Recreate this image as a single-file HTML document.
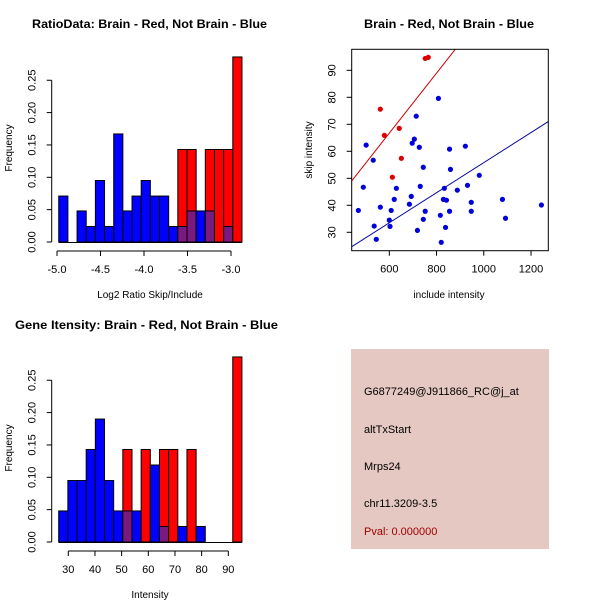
<!DOCTYPE html>
<html><head><meta charset="utf-8"><style>
body{margin:0;background:#fff}
svg{display:block;font-family:"Liberation Sans",Arial,sans-serif}
</style></head><body>
<svg id="c" width="600" height="600" viewBox="0 0 600 600">
<rect width="600" height="600" fill="#fff"/>
<g id="p1"></g>
<g id="p2"></g>
<g id="p3"></g>
<g>
<rect x="351" y="349" width="198" height="200" fill="#e5c8c2"/>
<text x="364" y="395" font-size="11">G6877249@J911866_RC@j_at</text>
<text x="364" y="433" font-size="11">altTxStart</text>
<text x="364" y="470" font-size="11">Mrps24</text>
<text x="364" y="507" font-size="11">chr11.3209-3.5</text>
<text x="364" y="535" font-size="11" fill="#a00000">Pval: 0.000000</text>
</g>
</svg>
<script>
// Histogram 1 data
const h1Blue=[0.071,0,0.048,0.024,0.095,0.024,0.167,0.048,0.071,0.095,0.071,0.071,0.024,0.024,0.048,0.048,0.048,0,0.024,0];
const h1Red=[0,0,0,0,0,0,0,0,0,0,0,0,0,0.143,0.143,0,0.143,0.143,0.143,0.286];
const h1Ticks=[-5.0,-4.5,-4.0,-3.5,-3.0];
const h1Start=-4.98, h1Width=0.1053;
// Histogram 2 data
const h2Blue=[0.048,0.095,0.095,0.143,0.19,0.095,0.048,0.048,0.048,0,0.119,0.024,0,0.024,0,0.024,0,0,0,0];
const h2Red=[0,0,0,0,0,0,0,0.143,0,0.143,0,0.143,0.143,0,0.143,0,0,0,0,0.286];
const h2Ticks=[30,40,50,60,70,80,90];
const h2Start=26.4, h2Width=3.435;
const freqTicks=[0,0.05,0.10,0.15,0.20,0.25];
// Scatter data
const blueX=[469,490,502,532,536,545,562,600,603,608,621,630,685,693,697,706,714,719,727,731,744,744,752,808,816,820,829,833,838,842,855,855,859,888,922,931,947,947,981,1079,1092,1244];
const blueY=[38.1,46.7,62.3,56.7,32.3,27.4,39.3,34.5,32.2,38.1,42.2,46.3,40.4,43.3,63,64.5,73,30.7,61.5,47,54.1,34.8,37.8,79.6,36.3,26.3,42.2,46.3,31.8,41.9,37.8,60.8,53.3,45.6,61.9,47.4,41.1,37.8,51.1,42.2,35.2,40.1];
const redX=[562,579,642,651,613,752,765];
const redY=[75.6,65.9,68.5,57.4,50.4,94.4,94.8];
const lineSlope=[0.1112,0.0557];
const lineIntercept=[0,0.1];
const sxTicks=[600,800,1000,1200];
const syTicks=[30,40,50,60,70,80,90];

const NS="http://www.w3.org/2000/svg";
function mk(parent,tag,attrs,name,txt){const e=document.createElementNS(NS,tag);for(const k in attrs)e.setAttribute(k,attrs[k]);


if(txt!==undefined)e.textContent=txt;parent.appendChild(e);return e;}
function fmt(v,d){return v.toFixed(d);}

function hist(g,o){
  const X=v=>o.x0+(v-o.v0)*o.kx, Y=v=>o.base-v*o.ky;
  mk(g,'text',{x:o.tx,y:o.ty,'font-size':12,'font-weight':'bold',textLength:o.tl,lengthAdjust:'spacingAndGlyphs'},'chart-title',o.title);
  for(let i=0;i<o.blue.length;i++){
    const a=X(o.start+i*o.w), b=X(o.start+(i+1)*o.w);
    const bv=o.blue[i], rv=o.red[i];
    if(bv>0) mk(g,'rect',{x:a,y:Y(bv),width:b-a,height:Y(0)-Y(bv),fill:'#0000ff',stroke:'#000','stroke-width':1},'blue-bar');
    if(rv>0) mk(g,'rect',{x:a,y:Y(rv),width:b-a,height:Y(0)-Y(rv),fill:'#ff0000',stroke:'#000','stroke-width':1},'red-bar');
    const m=Math.min(bv,rv);
    if(m>0) mk(g,'rect',{x:a,y:Y(m),width:b-a,height:Y(0)-Y(m),fill:'#7a1a80',stroke:'#000','stroke-width':1},'overlap-bar');
  }
  mk(g,'line',{x1:X(o.start),x2:X(o.start+o.blue.length*o.w),y1:Y(0)+0.5,y2:Y(0)+0.5,stroke:'#000'},'baseline');
  const ax=o.yax;
  mk(g,'line',{x1:ax,x2:ax,y1:Y(0),y2:Y(freqTicks[freqTicks.length-1]),stroke:'#000'},'y-axis');
  freqTicks.forEach(t=>{
    mk(g,'line',{x1:ax-5,x2:ax,y1:Y(t),y2:Y(t),stroke:'#000'},'y-tick');
    mk(g,'text',{x:ax-16,y:Y(t),'font-size':11,'text-anchor':'middle',transform:`rotate(-90 ${ax-16} ${Y(t)})`},'y-tick-label',fmt(t,2));
  });
  mk(g,'text',{x:12,y:o.base-94,'font-size':10,'text-anchor':'middle',transform:`rotate(-90 12 ${o.base-94})`},'y-axis-title','Frequency');
  const ay=o.base+9;
  mk(g,'line',{x1:X(o.ticks[0]),x2:X(o.ticks[o.ticks.length-1]),y1:ay,y2:ay,stroke:'#000'},'x-axis');
  o.ticks.forEach(t=>{
    mk(g,'line',{x1:X(t),x2:X(t),y1:ay,y2:ay+5,stroke:'#000'},'x-tick');
    mk(g,'text',{x:X(t),y:ay+22,'font-size':11,'text-anchor':'middle'},'x-tick-label',o.dec?fmt(t,1):String(t));
  });
  mk(g,'text',{x:150,y:o.base+56,'font-size':10,'text-anchor':'middle'},'x-axis-title',o.xt);
}
hist(document.getElementById('p1'),{title:'RatioData: Brain - Red, Not Brain - Blue',tx:32,ty:28,tl:235,x0:57,v0:-5,kx:87,base:242,ky:647,
  blue:h1Blue,red:h1Red,start:h1Start,w:h1Width,ticks:h1Ticks,dec:true,yax:51.7,xt:'Log2 Ratio Skip/Include'});
hist(document.getElementById('p3'),{title:'Gene Itensity: Brain - Red, Not Brain - Blue',tx:15,ty:329,tl:263,x0:68.3,v0:30,kx:2.667,base:542,ky:647,
  blue:h2Blue,red:h2Red,start:h2Start,w:h2Width,ticks:h2Ticks,dec:false,yax:51.7,xt:'Intensity'});

(function(){
  const g=document.getElementById('p2');
  const L=351.7,R=548.3,T=49.3,B=250.7;
  const X=v=>389.3+(v-600)*0.2362, Y=v=>70.3-(v-90)*2.7;
  mk(g,'text',{x:449,y:28,'font-size':12,'font-weight':'bold','text-anchor':'middle',textLength:170,lengthAdjust:'spacingAndGlyphs'},'chart-title','Brain - Red, Not Brain - Blue');
  mk(g,'defs',{},'clip-defs').innerHTML=`<clipPath id="cp"><rect x="${L}" y="${T}" width="${R-L}" height="${B-T}"/></clipPath>`;
  const cg=mk(g,'g',{'clip-path':'url(#cp)'},'plot-area');
  const xmin=(L-389.3)/0.2362+600, xmax=(R-389.3)/0.2362+600;
  const cols=['#cc0000','#000099'];
  for(let i=0;i<2;i++){
    mk(cg,'line',{x1:X(xmin),y1:Y(lineSlope[i]*xmin+lineIntercept[i]),x2:X(xmax),y2:Y(lineSlope[i]*xmax+lineIntercept[i]),stroke:cols[i]},i?'blue-fit-line':'red-fit-line');
  }
  blueX.forEach((v,i)=>mk(cg,'circle',{cx:X(v),cy:Y(blueY[i]),r:2.6,fill:'#0000dd'},'blue-point'));
  redX.forEach((v,i)=>mk(cg,'circle',{cx:X(v),cy:Y(redY[i]),r:2.6,fill:'#dd0000'},'red-point'));
  mk(g,'rect',{x:L,y:T,width:R-L,height:B-T,fill:'none',stroke:'#000'},'plot-box');
  sxTicks.forEach(t=>{
    mk(g,'line',{x1:X(t),x2:X(t),y1:B,y2:B+5,stroke:'#000'},'x-tick');
    mk(g,'text',{x:X(t),y:B+22,'font-size':11,'text-anchor':'middle'},'x-tick-label',String(t));
  });
  syTicks.forEach(t=>{
    mk(g,'line',{x1:L-5,x2:L,y1:Y(t),y2:Y(t),stroke:'#000'},'y-tick');
    mk(g,'text',{x:L-16,y:Y(t),'font-size':11,'text-anchor':'middle',transform:`rotate(-90 ${L-16} ${Y(t)})`},'y-tick-label',String(t));
  });
  mk(g,'text',{x:449,y:298,'font-size':10,'text-anchor':'middle'},'x-axis-title','include intensity');
  mk(g,'text',{x:312,y:150,'font-size':10,'text-anchor':'middle',transform:'rotate(-90 312 150)'},'y-axis-title','skip intensity');
})();
</script>
</body></html>
